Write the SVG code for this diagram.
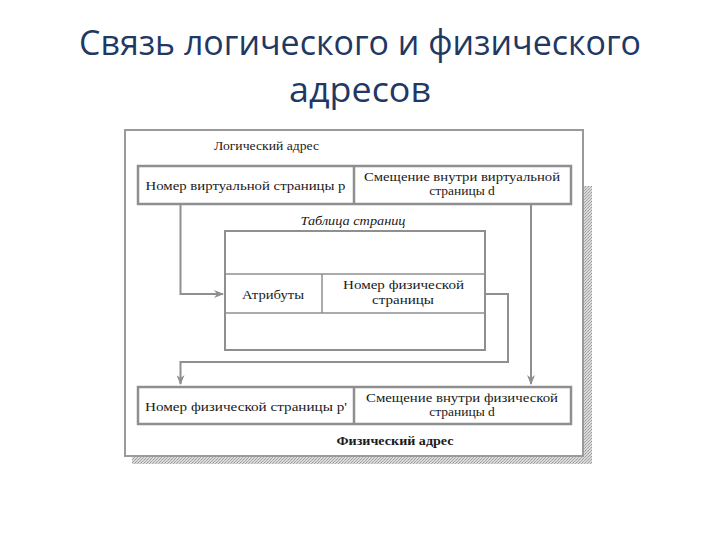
<svg xmlns="http://www.w3.org/2000/svg" width="720" height="540" viewBox="0 0 720 540">
<style>
.title{font-family:"Open Sans","Noto Sans","Liberation Sans",sans-serif;font-size:34px;fill:#1f3864;text-anchor:middle}
.t{font-family:"Liberation Serif","DejaVu Serif",serif;font-size:13.5px;fill:#1a1a1a;text-anchor:middle}
.it{font-style:italic}
.b{font-weight:bold}
.box{fill:#fff;stroke:#8f8f8f;stroke-width:2.5}
.ln{fill:none;stroke:#8f8f8f;stroke-width:1.5}
.conn{fill:none;stroke:#8f8f8f;stroke-width:2}
</style>
<defs>
<pattern id="dots" width="3" height="3" patternUnits="userSpaceOnUse">
<rect width="3" height="3" fill="#dadada"/>
<rect width="1" height="1" fill="#9a9a9a"/>
<rect x="2" y="1" width="1" height="1" fill="#acacac"/>
<rect x="1" y="2" width="1" height="1" fill="#a6a6a6"/>
</pattern>
<marker id="ah" markerWidth="10" markerHeight="8" refX="9" refY="4" orient="auto" markerUnits="userSpaceOnUse">
<path d="M0,0 L10,4 L0,8 L3,4 Z" fill="#8f8f8f"/>
</marker>
</defs>
<rect width="720" height="540" fill="#fff"/>
<g id="title">
<text class="title" x="360" y="55" textLength="562" lengthAdjust="spacingAndGlyphs">Связь логического и физического</text>
<text class="title" x="360" y="102" textLength="142" lengthAdjust="spacingAndGlyphs">адресов</text>
</g>
<g id="frame">
<rect x="584" y="186" width="8" height="278" fill="url(#dots)"/>
<rect x="132" y="457" width="460" height="7" fill="url(#dots)"/>
<rect x="125" y="130" width="458" height="326" fill="#fff" stroke="#9a9a9a" stroke-width="2"/>
<text class="t" x="266.5" y="150" font-size="11.5" textLength="105" lengthAdjust="spacingAndGlyphs">Логический адрес</text>
<text class="t b" x="395" y="445" font-size="11.5" textLength="117" lengthAdjust="spacingAndGlyphs">Физический адрес</text>
</g>
<g id="logical-address">
<rect class="box" x="138" y="166" width="433" height="38"/>
<line class="box" x1="354" y1="166" x2="354" y2="204"/>
<text class="t" x="245.5" y="190" textLength="200" lengthAdjust="spacingAndGlyphs">Номер виртуальной страницы p</text>
<text class="t" x="462" y="181" textLength="196" lengthAdjust="spacingAndGlyphs">Смещение внутри виртуальной</text>
<text class="t" x="462" y="195">страницы d</text>
</g>
<g id="page-table">
<text class="t it" x="353" y="225" textLength="105" lengthAdjust="spacingAndGlyphs">Таблица страниц</text>
<rect x="225" y="231" width="260" height="119" fill="#fff" stroke="#8f8f8f" stroke-width="2"/>
<line class="ln" x1="225" y1="274" x2="485" y2="274"/>
<line class="ln" x1="225" y1="313" x2="485" y2="313"/>
<line class="ln" x1="322" y1="274" x2="322" y2="313"/>
<text class="t" x="273" y="299" textLength="62" lengthAdjust="spacingAndGlyphs">Атрибуты</text>
<text class="t" x="403.5" y="289" textLength="121" lengthAdjust="spacingAndGlyphs">Номер физической</text>
<text class="t" x="403" y="304" textLength="62" lengthAdjust="spacingAndGlyphs">страницы</text>
</g>
<g id="physical-address">
<rect class="box" x="138" y="387" width="433" height="37"/>
<line class="box" x1="354" y1="387" x2="354" y2="424"/>
<text class="t" x="246" y="411" textLength="202" lengthAdjust="spacingAndGlyphs">Номер физической страницы p'</text>
<text class="t" x="462" y="402" textLength="192" lengthAdjust="spacingAndGlyphs">Смещение внутри физической</text>
<text class="t" x="462" y="416">страницы d</text>
</g>
<g id="connectors">
<polyline class="conn" points="180.5,205 180.5,294 223,294" marker-end="url(#ah)"/>
<polyline class="conn" points="486,294 508,294 508,362 180.5,362 180.5,384" marker-end="url(#ah)"/>
<polyline class="conn" points="531,205 531,384" marker-end="url(#ah)"/>
</g>
</svg>
